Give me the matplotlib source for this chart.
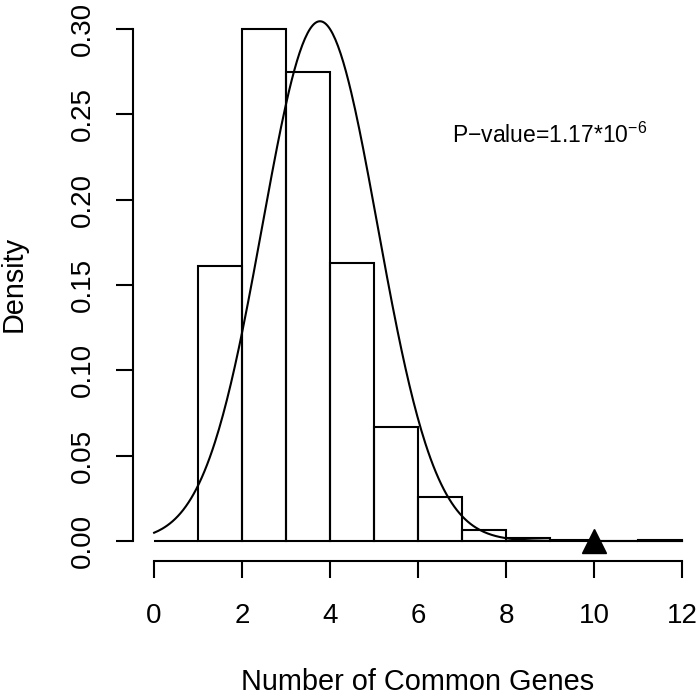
import numpy as np
import matplotlib
matplotlib.use("Agg")
import matplotlib.pyplot as plt

plt.rcParams['font.family'] = ['Liberation Sans', 'DejaVu Sans']
plt.rcParams['mathtext.fontset'] = 'custom'
plt.rcParams['mathtext.rm'] = 'Liberation Sans'
plt.rcParams['mathtext.it'] = 'Liberation Sans'

# histogram (density scale), bins of width 1 from 0 to 12
bin_left = [0, 1, 2, 3, 4, 5, 6, 7, 8, 9, 10, 11]
density = [0.0, 0.161, 0.300, 0.275, 0.163, 0.067, 0.026, 0.0063, 0.0015, 0.0004, 0.0, 0.0003]

# fitted normal curve parameters
fit_mean = 3.77
fit_sd = 1.31

observed = 10
p_text = "P\u2212value=1.17*10$^{\u22126}$"

x_ticks = [0, 2, 4, 6, 8, 10, 12]
y_ticks = [0.00, 0.05, 0.10, 0.15, 0.20, 0.25, 0.30]

W, H = 700, 696
fig = plt.figure(figsize=(W / 100, H / 100), dpi=100)
ax = fig.add_axes([133 / W, 135 / H, (W - 133) / W, 561 / H])

lw = 1.5
ax.bar(bin_left, density, width=1, align='edge', fill=False,
       edgecolor='black', linewidth=lw, clip_on=False)

xs = np.linspace(0, 12, 400)
ys = np.exp(-0.5 * ((xs - fit_mean) / fit_sd) ** 2) / (fit_sd * np.sqrt(2 * np.pi))
ax.plot(xs, ys, color='black', linewidth=lw, clip_on=False)

ax.plot([observed], [0], marker='^', color='black', markersize=17, clip_on=False)

ax.text(6.77, (541 - 143) / 1706.7, p_text, fontsize=16.5, ha='left', va='baseline')

ax.set_xlim(-0.48, (W - 154) / 44)
ax.set_ylim(-20 / 1706.7, 541 / 1706.7)

for s in ['top', 'right']:
    ax.spines[s].set_visible(False)
ax.spines['left'].set_bounds(0, 0.30)
ax.spines['bottom'].set_bounds(0, 12)
for s in ['left', 'bottom']:
    ax.spines[s].set_linewidth(lw)

ax.set_xticks(x_ticks)
ax.set_xticklabels([str(t) for t in x_ticks])
ax.set_yticks(y_ticks)
ax.set_yticklabels(["%.2f" % t for t in y_ticks], rotation=90, va='center')
ax.tick_params(axis='both', length=12, width=lw, labelsize=20)
ax.tick_params(axis='x', pad=18)
ax.tick_params(axis='y', pad=15)

fig.text(418 / W, 1 - 682 / H, "Number of Common Genes", fontsize=20.8, ha='center', va='center')
fig.text(14 / W, 1 - 284 / H, "Density", fontsize=20.8, ha='center', va='center', rotation=90)

fig.savefig("out.png", dpi=100)
